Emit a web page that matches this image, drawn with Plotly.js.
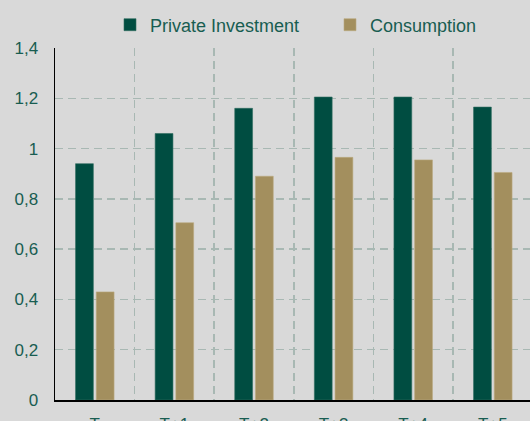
<!DOCTYPE html>
<html><head><meta charset="utf-8">
<script src="https://cdn.plot.ly/plotly-3.0.1.min.js"></script>
<style>html,body{margin:0;padding:0;background:#d9d9d9;}#chart{width:530px;height:421px;}</style>
</head><body><div id="chart"></div>
<script>
const categories = ["T", "T+1", "T+2", "T+3", "T+4", "T+5"];
const privateInvestment = [0.94, 1.06, 1.16, 1.205, 1.205, 1.165];
const consumption = [0.43, 0.705, 0.89, 0.965, 0.955, 0.905];
const yTicks = [0, 0.2, 0.4, 0.6, 0.8, 1, 1.2, 1.4];

const textColor = "#185d51";
const gridColor = "#a8b8b3";
const xEnd = 5.5 - 2.6/79.6;

const data = [
  {type: "bar", name: "Private Investment", x: categories, y: privateInvestment, legend: "legend",
   marker: {color: "#004d41", line: {color: "#2f6b5f", width: 0.6}}},
  {type: "bar", name: "Consumption", x: categories, y: consumption, legend: "legend2",
   marker: {color: "#a38f5e", line: {color: "#bba97f", width: 0.6}}},
  {type: "scatter", x: [0], y: [0], xaxis: "x2", showlegend: false, hoverinfo: "skip",
   mode: "markers", marker: {opacity: 0}}
];

const legendBase = {orientation: "h", xanchor: "left", y: 1 - 25/421, yanchor: "middle", yref: "container",
                    font: {size: 18, color: textColor}, bgcolor: "rgba(0,0,0,0)"};

const layout = {
  width: 530, height: 421,
  paper_bgcolor: "#d9d9d9", plot_bgcolor: "#d9d9d9",
  margin: {l: 55, r: 0, t: 48, b: 21, pad: 0},
  separators: ",.",
  font: {family: "Liberation Sans, Arial, sans-serif", size: 17, color: textColor},
  barmode: "group", bargap: 0.48, bargroupgap: 0.14,
  showlegend: true,
  legend: Object.assign({}, legendBase, {x: (110-55)/475}),
  legend2: Object.assign({}, legendBase, {x: (330-55)/475}),
  xaxis: {type: "category", range: [-0.5, xEnd], showgrid: false, showline: true,
          linecolor: "#000", linewidth: 1.5, ticks: "", ticklabelstandoff: 8,
          tickfont: {size: 17, color: textColor}, fixedrange: true, zeroline: false},
  xaxis2: {overlaying: "x", range: [-0.5, xEnd], tickmode: "linear", tick0: 0.5, dtick: 1,
           showgrid: true, gridcolor: gridColor, griddash: "8px,5px", gridwidth: 1.5,
           showticklabels: false, ticks: "", zeroline: false, showline: false, anchor: "y", side: "bottom"},
  yaxis: {range: [0, 1.4], tickvals: yTicks, showgrid: true, gridcolor: gridColor, griddash: "8px,5px",
          gridwidth: 1.5, showline: true, linecolor: "#000", linewidth: 1.5, zeroline: false,
          ticks: "", ticklabelstandoff: 12, tickfont: {size: 17, color: textColor}}
};

Plotly.newPlot("chart", data, layout, {displayModeBar: false, staticPlot: true});
</script></body></html>
